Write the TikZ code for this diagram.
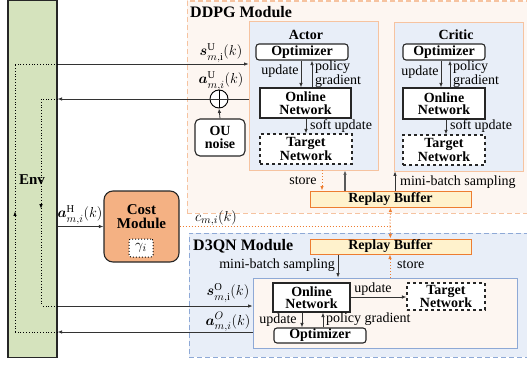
\documentclass[tikz,border=0pt]{standalone}
\usepackage{amsmath,bm}
\usepackage{fontspec}
\setmainfont{Liberation Serif}
\usetikzlibrary{arrows.meta,decorations.markings}
\definecolor{envg}{HTML}{D5E3BD}
\definecolor{ddpgfill}{HTML}{FDF6F1}
\definecolor{ddpgline}{HTML}{F6C3A0}
\definecolor{qfill}{HTML}{E8EEF8}
\definecolor{qline}{HTML}{8EA9D6}
\definecolor{rbfill}{HTML}{FFF2CC}
\definecolor{orgline}{HTML}{ED7D31}
\definecolor{costfill}{HTML}{F4B183}
\begin{document}
\begin{tikzpicture}[x=1pt,y=-1pt,font=\fontsize{14}{12.5}\selectfont,
  area/.style={inner sep=0pt},
  modbox/.style={area,line width=1pt,dash pattern=on 5pt off 3pt},
  bx/.style={draw=black!85,line width=1.1pt,fill=white,inner sep=0pt,align=center,font=\fontsize{14}{12.5}\selectfont\bfseries},
  rb/.style={draw=orgline,line width=1pt,fill=rbfill,inner sep=0pt,font=\fontsize{14}{12.5}\selectfont\bfseries},
  arr/.style={-{Latex[length=4.5pt,width=3.5pt]},line width=0.8pt,draw=black!80},
  odot/.style={draw=orgline,dotted,line width=1pt},
  otip/.style={-{Latex[length=4.5pt,width=3.5pt]}},
  lab/.style={inner sep=0pt},
  mlab/.style={inner sep=0pt,font=\fontsize{15}{15}\selectfont},
  midup/.style={postaction={decorate},decoration={markings,mark=at position #1 with {\arrow{Latex[length=4.5pt,width=3.5pt]}}}}
]
\useasboundingbox (0,0) rectangle (527,364);
% module backgrounds
\node[modbox,draw=ddpgline,fill=ddpgfill,minimum width=342pt,minimum height=212pt] (ddpg) at (358,107) {};
\node[modbox,draw=qline,fill=qfill,minimum width=340pt,minimum height=124pt] (d3qn) at (359,295) {};
\node[lab,anchor=base west,font=\fontsize{16}{16}\selectfont\bfseries] (ddpgt) at (190,17) {DDPG Module};
\node[lab,anchor=base west,font=\fontsize{16}{16}\selectfont\bfseries] (d3qnt) at (193,250) {D3QN Module};
% actor / critic
\node[area,draw=ddpgline,line width=0.8pt,fill=qfill,minimum width=129pt,minimum height=149pt] (actor) at (313.5,95.5) {};
\node[area,draw=ddpgline,line width=0.8pt,fill=qfill,minimum width=129pt,minimum height=149pt] (critic) at (458.5,96.5) {};
\node[lab,font=\fontsize{14}{12.5}\selectfont\bfseries] (actort) at (306,35) {Actor};
\node[lab,font=\fontsize{14}{12.5}\selectfont\bfseries] (critict) at (456,35) {Critic};
\node[bx,rounded corners=3pt,minimum width=92pt,minimum height=16pt] (aopt) at (302,52) {Optimizer};
\node[bx,minimum width=91pt,minimum height=30pt] (aon) at (305.5,103) {Online\\Network};
\node[bx,dashed,minimum width=92pt,minimum height=30pt] (atg) at (306,149) {Target\\Network};
\node[bx,rounded corners=3pt,minimum width=82pt,minimum height=16pt] (copt) at (444,52) {Optimizer};
\node[bx,minimum width=82pt,minimum height=31pt] (con) at (444,103.5) {Online\\Network};
\node[bx,dashed,minimum width=82pt,minimum height=30pt] (ctg) at (444,150) {Target\\Network};
% replay buffers
\node[rb,minimum width=161pt,minimum height=16pt] (rb1) at (390.5,199) {Replay Buffer};
\node[rb,minimum width=161pt,minimum height=15pt] (rb2) at (390.5,246.5) {Replay Buffer};
% D3QN inner
\node[area,draw=qline,line width=0.8pt,fill=ddpgfill,minimum width=264pt,minimum height=70pt] (inner) at (385,313) {};
\node[bx,minimum width=77pt,minimum height=29pt] (don) at (311.5,297.5) {Online\\Network};
\node[bx,dashed,minimum width=78pt,minimum height=27pt] (dtg) at (446,296.5) {Target\\Network};
\node[bx,rounded corners=3pt,minimum width=92pt,minimum height=15pt] (dopt) at (320,335.5) {Optimizer};
% env, cost, noise
\node[area,draw=black!85,line width=1.1pt,fill=envg,minimum width=49pt,minimum height=357pt] (env) at (32.5,179) {};
\node[lab,font=\fontsize{15}{15}\selectfont\bfseries] (envt) at (32,180) {Env};
\node[bx,fill=costfill,rounded corners=9pt,minimum width=75pt,minimum height=71pt] (cost) at (141.5,226.5) {};
\node[lab,align=center,font=\fontsize{15}{14}\selectfont\bfseries] (costt) at (141.5,217) {Cost\\Module};
\node[draw=black,dotted,line width=1pt,fill=white,rounded corners=2pt,inner sep=0pt,minimum width=24pt,minimum height=18pt,font=\fontsize{15}{15}\selectfont] (gam) at (141,248) {$\gamma_i$};
\node[bx,rounded corners=5pt,minimum width=50pt,minimum height=37pt] (ou) at (220,137.5) {OU\\noise};
\node[circle,draw=black,line width=0.9pt,fill=white,minimum size=18pt,inner sep=0pt] (plus) at (219,99) {};
\draw[line width=0.9pt] (plus.north) -- (plus.south) (plus.west) -- (plus.east);
% coordinates
\coordinate (d1a) at (15,64);
\coordinate (d1b) at (15,332);
\coordinate (d2a) at (41,99);
\coordinate (d2b) at (41,306);
\foreach \n/\x in {a1/301,a2/312,a3/306,c1/441,c2/450,c3/446,s1/322,s2/345,s3/395,s4/338,s5/390,q1/302,q2/323}{\coordinate (x\n) at (\x,0);}
% env connections
\draw[arr] (env.east |- d1a) -- (actor.west |- d1a);
\draw[arr] (actor.west |- plus) -- (env.east |- plus);
\draw[arr] (ou.north) -- (plus.south);
\draw[arr] (env.east |- d2b) -- (inner.west |- d2b);
\draw[arr] (inner.west |- d1b) -- (env.east |- d1b);
\draw[arr] (env.east |- cost.west) -- (cost.west);
\draw[dotted,line width=0.8pt] (env.east |- d1a) -- (d1a);
\draw[dotted,line width=0.8pt] (env.east |- d1b) -- (d1b);
\draw[dotted,line width=0.8pt,midup=0.45] (d1b) -- (d1a);
\draw[dotted,line width=0.8pt] (env.east |- d2a) -- (d2a);
\draw[dotted,line width=0.8pt] (env.east |- d2b) -- (d2b);
\draw[dotted,line width=0.8pt,midup=0.53] (d2a) -- (d2b);
% labels env side
\node[mlab] (lsU) at (221,53) {$\bm{s}^{\mathrm{U}}_{m,\mathrm{i}}(k)$};
\node[mlab] (laU) at (221,81) {$\bm{a}^{\mathrm{U}}_{m,i}(k)$};
\node[mlab] (laH) at (80,215) {$\bm{a}^{\mathrm{H}}_{m,i}(k)$};
\node[mlab] (lsO) at (228,293) {$\bm{s}^{\mathrm{O}}_{m,\mathrm{i}}(k)$};
\node[mlab] (laO) at (228,322) {$\bm{a}^{O}_{m,i}(k)$};
\node[mlab] (lc) at (216,218) {$c_{m,i}(k)$};
% cost line
\draw[odot] (cost.east) -- (cost.east -| rb1.south);
\draw[odot,otip] (xs5 |- cost.east) -- (rb1.south);
\draw[odot,otip] (xs5 |- cost.east) -- (rb2.north);
% actor internal
\draw[arr] (xa1 |- aopt.south) -- (xa1 |- aon.north);
\draw[arr] (xa2 |- aon.north) -- (xa2 |- aopt.south);
\draw[arr] (xa3 |- aon.south) -- (xa3 |- atg.north);
\node[lab] (lau) at (280,71) {update};
\node[lab,anchor=west,align=left] (lapg) at (315,74) {policy\\gradient};
\node[lab,anchor=west] (lasu) at (310,126) {soft update};
% critic internal
\draw[arr] (xc1 |- copt.south) -- (xc1 |- con.north);
\draw[arr] (xc2 |- con.north) -- (xc2 |- copt.south);
\draw[arr] (xc3 |- con.south) -- (xc3 |- ctg.north);
\node[lab] (lcu) at (420,72) {update};
\node[lab,anchor=west,align=left] (lcpg) at (453,74) {policy\\gradient};
\node[lab,anchor=west] (lcsu) at (450,126) {soft update};
% DDPG buffer links
\draw[odot,otip] (xs1 |- actor.south) -- (xs1 |- rb1.north);
\draw[arr,line width=1.2pt,draw=black!65] (xs2 |- rb1.north) -- (xs2 |- actor.south);
\draw[arr] (xs3 |- rb1.north) -- (xs3 |- critic.south);
\node[lab] (lst1) at (303,181) {store};
\node[lab,anchor=west] (lmb1) at (400,182) {mini-batch sampling};
% D3QN links
\draw[arr] (xs4 |- rb2.south) -- (xs4 |- inner.north);
\draw[odot,otip] (xs5 |- inner.north) -- (xs5 |- rb2.south);
\node[lab,anchor=east] (lmb2) at (335,265) {mini-batch sampling};
\node[lab,anchor=west] (lst2) at (397,265) {store};
\draw[arr] (don.east |- 0,297) -- (dtg.west |- 0,297);
\node[lab] (ldu) at (373,289) {update};
\draw[arr] (xq1 |- don.south) -- (xq1 |- dopt.north);
\draw[arr] (xq2 |- dopt.north) -- (xq2 |- don.south);
\node[lab] (ldu2) at (278,320) {update};
\node[lab,anchor=west] (ldpg) at (326,319) {policy gradient};
\end{tikzpicture}
\end{document}
